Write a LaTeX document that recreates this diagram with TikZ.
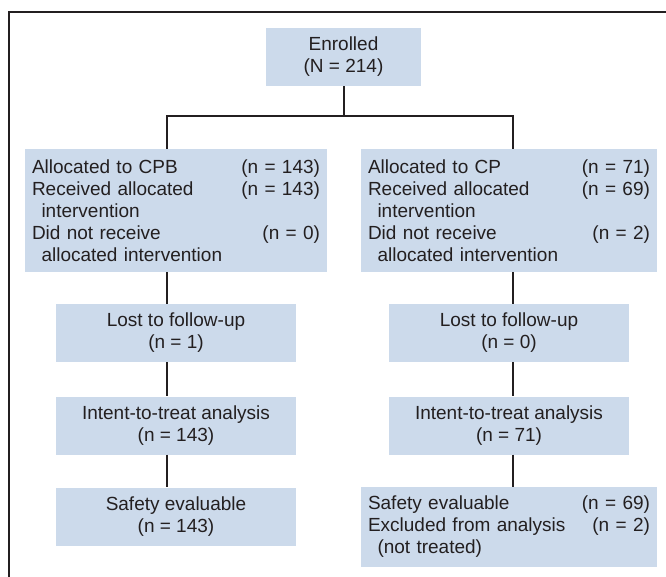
\documentclass[tikz,border=0pt]{standalone}
\usepackage{fontspec}
\setmainfont{Liberation Sans}
\usepackage{xcolor}
\usetikzlibrary{positioning}
\definecolor{boxblue}{HTML}{CCDAEB}
\definecolor{inkgray}{HTML}{231F20}

\tikzset{
  flowbox/.style={fill=boxblue, draw=none, text=inkgray, inner xsep=7pt, inner ysep=0pt,
    font=\fontsize{19}{22}\selectfont, align=center, minimum height=58pt},
  smallbox/.style={flowbox, minimum width=240pt},
  widebox/.style={flowbox, align=left},
  link/.style={draw=inkgray, line width=2pt},
  framerule/.style={draw=inkgray, line width=1.6pt},
}
\newcommand{\indentline}{\hspace*{0.5em}}

\begin{document}
\begin{tikzpicture}[x=1pt, y=-1pt]
  \useasboundingbox (0,0) rectangle (666,577);

  % open frame, top and left side
  \coordinate (frametop) at (666,12);
  \coordinate (framecorner) at (9,12);
  \coordinate (framebottom) at (9,577);
  \draw[framerule] (frametop) -- (framecorner) -- (framebottom);

  \node[flowbox, minimum width=155pt] (enrolled) at (343.5,57) {Enrolled\\(N = 214)};

  % randomised arms
  \node[widebox, text width=288pt, minimum height=123pt] (allocCPB) at (176,210.5) {%
    Allocated to CPB\hfill(n = 143)\\
    Received allocated\hfill(n = 143)\\
    \indentline intervention\\
    Did not receive\hfill(n = 0)\\
    \indentline allocated intervention};
  \node[widebox, text width=282pt, minimum height=123pt] (allocCP) at (509,210.5) {%
    Allocated to CP\hfill(n = 71)\\
    Received allocated\hfill(n = 69)\\
    \indentline intervention\\
    Did not receive\hfill(n = 2)\\
    \indentline allocated intervention};

  \node[smallbox] (lostCPB) at (176,333) {Lost to follow-up\\(n = 1)};
  \node[smallbox] (lostCP) at (509,333) {Lost to follow-up\\(n = 0)};

  \node[smallbox] (ittCPB) at (176,425.5) {Intent-to-treat analysis\\(n = 143)};
  \node[smallbox] (ittCP) at (509,425.5) {Intent-to-treat analysis\\(n = 71)};

  \node[smallbox] (safeCPB) at (176,516.5) {Safety evaluable\\(n = 143)};
  \node[widebox, text width=282pt, minimum height=80pt] (safeCP) at (509,527) {%
    Safety evaluable\hfill(n = 69)\\
    Excluded from analysis\hfill(n = 2)\\
    \indentline(not treated)};

  % connectors
  \coordinate (split) at (343.5,116);
  \draw[link] (enrolled.south) -- (split);
  \draw[link] ([xshift=-9pt]allocCPB.north) |- (split) -| ([xshift=4pt]allocCP.north);
  \draw[link] ([xshift=-9pt]allocCPB.south) -- ([xshift=-9pt]lostCPB.north);
  \draw[link] ([xshift=-9pt]lostCPB.south) -- ([xshift=-9pt]ittCPB.north);
  \draw[link] ([xshift=-9pt]ittCPB.south) -- ([xshift=-9pt]safeCPB.north);
  \draw[link] ([xshift=4pt]allocCP.south) -- ([xshift=4pt]lostCP.north);
  \draw[link] ([xshift=4pt]lostCP.south) -- ([xshift=4pt]ittCP.north);
  \draw[link] ([xshift=4pt]ittCP.south) -- ([xshift=4pt]safeCP.north);
\end{tikzpicture}
\end{document}
